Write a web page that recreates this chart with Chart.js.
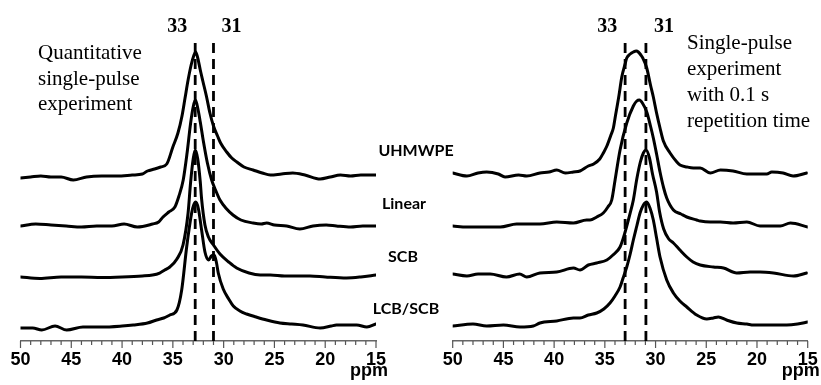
<!DOCTYPE html>
<html><head><meta charset="utf-8">
<script src="https://cdn.jsdelivr.net/npm/chart.js@4.4.1/dist/chart.umd.min.js"></script>
<style>
html,body{margin:0;padding:0;background:#fff;}
#wrap{position:relative;width:821px;height:385px;}
canvas{position:absolute;left:0;top:0;}
</style></head><body>
<div id="wrap"><canvas id="c1" width="821" height="385"></canvas><canvas id="c2" width="821" height="385"></canvas></div>
<script>
// ===== Data =====
const sampleNames = ['UHMWPE', 'Linear', 'SCB', 'LCB/SCB'];
const leftTitle = ['Quantitative', 'single-pulse', 'experiment'];
const rightTitle = ['Single-pulse', 'experiment', 'with 0.1 s', 'repetition time'];
const markerLabels = ['33', '31'];
const leftMarkerPpm = [32.8, 31.0];
const rightMarkerPpm = [33.0, 30.95];
const ppmMin = 15, ppmMax = 50, minorStep = 1, majorStep = 5;
// vertical stacking offsets (intensity units) of each trace
const leftOffsets = [163, 115, 64, 15];
const rightOffsets = [168, 115, 67, 15];

// --- Left panel: quantitative single-pulse ---
const L_UHMWPE_ppm = [50,49,48,47,46,44.8,43.5,42,40.5,39,38,37.5,36.8,36.2,35.6,35.0,34.5,34.1,33.8,33.5,33.2,32.95,32.75,32.55,32.3,32.05,31.7,31.35,31.0,30.6,30.3,29.7,29.2,28.7,28.0,27.1,26.2,25.4,24.3,23.2,22.0,20.5,19.5,18.5,17.5,16.5,15];
const L_UHMWPE_int = [0,1,2,1,1,-2,1,2,2,3,4,7,9,11,14,31,45,62,80,98,113,122,126,120,108,97,82,65,52,42,35,26,20,16,11,8,5,3,4,5,3,-1,1,3,2,3,3];
const L_LINEAR_ppm = [50,48.5,47,45.5,44,42.5,41,39.8,38.5,37,36.4,35.97,35.4,34.8,34.4,33.98,33.6,33.25,32.98,32.78,32.55,32.3,32.0,31.6,31.18,30.8,30.36,29.7,29.08,28.3,27.1,26.3,25.77,25.0,23.8,22.5,21.2,19.9,18.9,17.5,16.3,15];
const L_LINEAR_int = [0,2,1,0,-1,0,0,2,-1,2,4,9,14,19,30,46,73,103,120,126,118,104,85,63,46,36,26,17,11,6,3,2,3,1,0,-3,0,1,0,-1,0,0];
const L_SCB_ppm = [50,48.1,46,44,42,40,38,37,36.3,35.8,35.3,34.6,34.0,33.5,33.25,33.0,32.8,32.55,32.3,32.17,31.84,31.5,31.0,30.36,29.5,28.72,27.5,26.4,25.4,24,22.5,21.5,20,17.9,16.5,15];
const L_SCB_int = [0,-1.5,0,0,-0.5,0,1,2,4,7,10,18,32,64,95,118,127,118,95,78,52,40,32,23,15,9,4,2,2,1,1,1,0,-1,0,2];
const L_LCB_ppm = [50,48.8,47.9,46.6,45.45,43.85,42,40,38.9,37.5,36.6,35.9,35.3,34.6,34.13,33.64,33.15,32.95,32.75,32.5,32.17,31.84,31.5,31.2,30.93,30.7,30.53,30.04,29.5,29.05,28.4,27.74,26.8,25.77,24.46,23.3,22.2,20.5,19.4,18.9,17.5,16.9,15.9,15];
const L_LCB_int = [-2,-2,-4,0,-4,-1,-1,0,1,3,6,8,11,16,36,79,113,121,124,118,96,74,66,70,71,63,53,37,27,20,15,12,9,6,3,2,1,-2,0,1,1,1,-1,2];

// --- Right panel: 0.1 s repetition time ---
const R_UHMWPE_ppm = [50,48.6,47.5,46.65,45.5,44.84,43.5,42.7,41.4,40.5,39.74,38.9,38.1,37.45,36.63,36.1,35.5,35.15,34.8,34.4,34.16,33.99,33.6,33.33,33.0,32.84,32.5,32.19,31.9,31.7,31.45,31.26,30.87,30.5,30.22,29.9,29.56,29.23,28.57,27.9,27.59,26.9,26.27,25.6,24.6,23.6,22.36,21.0,19.9,19.03,18.54,17.43,16.44,15.09];
const R_UHMWPE_int = [0,-3,0,1,-1,-4,-2,-3,0,1,3,0,1,2,7,9,14,20,27,38,45,55,78,96,109,115,119,121,122,121,118,115,105,88,76,60,45,32,20,11,8,6,5,5,0,3,2,-1,-1,-1,1,0,-3,0];
const R_LINEAR_ppm = [50,48.6,47.3,45.3,43.7,41.4,39.74,38.1,36.8,36.46,35.8,35.15,34.7,34.32,33.99,33.5,32.84,32.19,31.85,31.6,31.3,30.87,30.5,30.22,29.9,29.56,29.2,28.9,28.24,27.5,26.92,25.94,25.6,24.6,23.6,22.36,21.0,19.7,17.7,16.7,15];
const R_LINEAR_int = [0,-1,-1,-1,2,2,4,3,6,6,9,13,19,26,46,76,103,120,125,126,123,114,100,88,72,54,38,28,16,12,9,6,5,4,4,3,4,0,0,3,-1];
const R_SCB_ppm = [50,48.6,47.5,46.3,44.7,43.4,42.7,41.4,39.74,38.1,37.45,36.63,35.8,34.8,34.2,33.5,33.0,32.5,32.19,31.85,31.5,31.2,30.94,30.6,30.3,29.9,29.6,29.2,28.7,28.24,27.6,26.92,26.3,25.6,24.3,23.3,22.0,20.68,19.7,18.38,16.4,15.1];
const R_SCB_int = [0,-2,0,0,-3,0,-3,1,2,6,4,9,11,14,19,27,42,61,74,95,112,121,124,116,100,82,62,45,35,31,24,17,12,9,7,6,1,2,2,1,-2,1];
const R_LCB_ppm = [50,48,46.65,45,43.36,42.05,41.4,39.74,38.1,37.45,36.63,35.8,35.1,34.49,34.0,33.5,33.2,32.84,32.5,32.19,31.85,31.53,31.2,30.87,30.55,30.22,29.9,29.56,28.9,28.24,27.6,26.92,25.94,24.95,24.3,23.81,23.0,21.99,21.0,20.35,19.0,18.0,17.06,16.0,15.0];
const R_LCB_int = [0,2,0,1,-1,0,3,5,8,8,11,13,17,23,30,39,48,59,72,86,100,113,121,124,118,106,88,69,46,33,25,19,11,7,8,9,6,3,2,1,1,1,1,2,4];

// ===== Build =====
function pts(ppm, inten, off){ return ppm.map((p,i)=>({x:p, y:inten[i]+off})); }
const leftSeries = [
  pts(L_UHMWPE_ppm, L_UHMWPE_int, leftOffsets[0]),
  pts(L_LINEAR_ppm, L_LINEAR_int, leftOffsets[1]),
  pts(L_SCB_ppm, L_SCB_int, leftOffsets[2]),
  pts(L_LCB_ppm, L_LCB_int, leftOffsets[3])
];
const rightSeries = [
  pts(R_UHMWPE_ppm, R_UHMWPE_int, rightOffsets[0]),
  pts(R_LINEAR_ppm, R_LINEAR_int, rightOffsets[1]),
  pts(R_SCB_ppm, R_SCB_int, rightOffsets[2]),
  pts(R_LCB_ppm, R_LCB_int, rightOffsets[3])
];
const YMAX = 301;

function makeChart(id, series, markers, padL, padR, drawExtra){
  const ds = series.map(s=>({data:s, borderColor:'#000', borderWidth:3, pointRadius:0,
      cubicInterpolationMode:'monotone', fill:false, borderJoinStyle:'round', borderCapStyle:'round'}));
  markers.forEach(p=>ds.push({data:[{x:p,y:0},{x:p,y:YMAX}], borderColor:'#000', borderWidth:2.8,
      borderDash:[10,6], pointRadius:0, fill:false}));
  return new Chart(document.getElementById(id), {
    type:'line',
    data:{datasets:ds},
    options:{
      responsive:false, animation:false, devicePixelRatio:1,
      plugins:{legend:{display:false}, tooltip:{enabled:false}},
      layout:{padding:{left:padL, right:padR, top:40, bottom:0}},
      scales:{
        x:{type:'linear', reverse:true, min:ppmMin, max:ppmMax,
           ticks:{stepSize:minorStep, autoSkip:false, maxRotation:0, minRotation:0, padding:2, color:'#000',
                  font:{family:'Liberation Sans', weight:'bold', size:18},
                  callback:v=> (v % majorStep === 0) ? String(v) : ''},
           grid:{display:true, drawOnChartArea:false, drawTicks:true, tickLength:6, color:'rgba(0,0,0,0)', tickColor:'rgba(0,0,0,0)'},
           border:{display:true, color:'#666', width:1.5},
           afterFit:s=>{ s.height = 44; }},
        y:{display:false, min:0, max:YMAX}
      }
    },
    plugins:[{id:'extra', afterDraw(chart){
      const s = chart.scales.x, c = chart.ctx;
      c.save();
      c.strokeStyle = '#555'; c.lineWidth = 1.2;
      s.ticks.forEach(t=>{
        const x = s.getPixelForValue(t.value);
        const len = (t.value % majorStep === 0) ? 7 : 4;
        c.beginPath(); c.moveTo(x, s.top); c.lineTo(x, s.top+len); c.stroke();
      });
      c.fillStyle = '#000';
      c.font = 'bold 20px "Liberation Serif"'; c.textBaseline = 'alphabetic';
      const x1 = s.getPixelForValue(markers[0]), x2 = s.getPixelForValue(markers[1]);
      c.textAlign = 'right'; c.fillText(markerLabels[0], x1 - 8, 32);
      c.textAlign = 'left'; c.fillText(markerLabels[1], x2 + 8, 32);
      c.font = 'bold 18px "Liberation Sans"'; c.textAlign = 'right';
      c.fillText('ppm', s.right + 12, 376);
      drawExtra(c, s);
      c.restore();
    }}]
  });
}

makeChart('c1', leftSeries, leftMarkerPpm, 20.5, 445, (c, s)=>{
  c.font = '21px "Liberation Serif"'; c.textAlign = 'left';
  leftTitle.forEach((t,i)=>c.fillText(t, 38, 59 + i*25.5));
  c.font = 'bold 16px Lato'; c.textAlign = 'center'; c.textBaseline = 'middle';
  const cx = [416, 404, 403, 406], cy = [151, 204, 257, 309];
  sampleNames.forEach((n,i)=>c.fillText(n, cx[i], cy[i]));
});
makeChart('c2', rightSeries, rightMarkerPpm, 452.7, 13.3, (c, s)=>{
  c.font = '21px "Liberation Serif"'; c.textAlign = 'left';
  rightTitle.forEach((t,i)=>c.fillText(t, 687, 49 + i*26));
});
</script>
</body></html>
